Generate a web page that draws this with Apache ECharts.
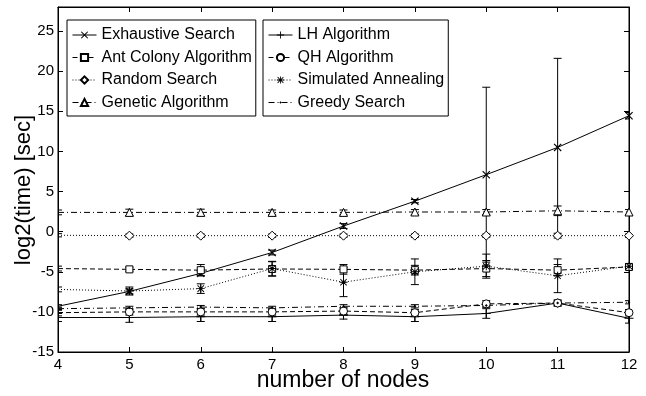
<!DOCTYPE html>
<html>
<head>
<meta charset="utf-8">
<script src="https://cdn.jsdelivr.net/npm/echarts@6/dist/echarts.min.js"></script>
<style>html,body{margin:0;padding:0;background:#fff}#c{width:646px;height:396px}</style>
</head>
<body>
<div id="c"></div>
<script>
// ---- data ----
const nodes = [4, 5, 6, 7, 8, 9, 10, 11, 12];
const exhaustive = [-9.3, -7.45, -5.2, -2.6, 0.7, 3.8, 7.1, 10.5, 14.45];
const exhaustiveErr = [0.2, 0.3, 0.3, 0.3, 0.3, 0.2, 10.9, 11.1, 0.4];
const antColony = [-4.6, -4.7, -4.8, -4.65, -4.7, -4.8, -4.6, -4.8, -4.4];
const antColonyErr = [0.3, 0.25, 0.7, 0.9, 0.6, 0.6, 1.0, 0.7, 0.3];
const randomSearch = [-0.45, -0.5, -0.5, -0.5, -0.5, -0.5, -0.5, -0.5, -0.5];
const randomErr = [0.2, 0.2, 0.2, 0.2, 0.2, 0.2, 0.2, 0.3, 0.2];
const genetic = [2.4, 2.4, 2.4, 2.4, 2.4, 2.45, 2.45, 2.6, 2.45];
const geneticErr = [0.3, 0.4, 0.4, 0.3, 0.3, 0.3, 0.3, 0.6, 0.3];
const lh = [-10.7, -10.7, -10.6, -10.6, -10.4, -10.6, -10.2, -8.9, -10.8];
const lhErr = [0.5, 0.6, 0.6, 0.6, 0.5, 0.6, 0.6, 0.4, 0.6];
const qh = [-10.1, -10.0, -10.0, -10.0, -9.9, -10.1, -9.0, -8.9, -10.1];
const qhErr = [0.4, 0.4, 0.4, 0.4, 0.4, 0.4, 0.4, 0.3, 0.4];
const sa = [-7.2, -7.4, -7.1, -4.6, -6.3, -5.0, -4.3, -5.5, -4.3];
const saErr = [0.3, 0.5, 0.6, 0.9, 1.8, 1.6, 1.5, 2.1, 0.3];
const greedy = [-9.6, -9.5, -9.4, -9.5, -9.3, -9.3, -9.2, -8.9, -8.8];
const greedyErr = [0.2, 0.2, 0.2, 0.2, 0.2, 0.2, 0.2, 0.2, 0.2];
const yTicks = [-15, -10, -5, 0, 5, 10, 15, 20, 25];
const xTicks = [4, 5, 6, 7, 8, 9, 10, 11, 12];
const legendLeft = ['Exhaustive Search', 'Ant Colony Algorithm', 'Random Search', 'Genetic Algorithm'];
const legendRight = ['LH Algorithm', 'QH Algorithm', 'Simulated Annealing', 'Greedy Search'];
const xTitle = 'number of nodes';
const yTitle = 'log2(time) [sec]';

// ---- styles ----
const FONT = 'Liberation Sans, Arial, sans-serif';
const SYM_X = 'path://M0,1L1,0L5,4L9,0L10,1L6,5L10,9L9,10L5,6L1,10L0,9L4,5Z';
const SYM_PLUS = 'path://M4.4,0H5.6V4.4H10V5.6H5.6V10H4.4V5.6H0V4.4H4.4Z';
const SYM_STAR = 'path://M4.4,0H5.6V4.4H10V5.6H5.6V10H4.4V5.6H0V4.4H4.4Z M0.6,1.4L1.4,0.6L5,4.2L8.6,0.6L9.4,1.4L5.8,5L9.4,8.6L8.6,9.4L5,5.8L1.4,9.4L0.6,8.6L4.2,5Z';
const SYM_DOT = 'path://M0,0M10,10M3.4,5L5,3.4L6.6,5L5,6.6Z';
const DASH = [5, 3];
const DOT = [1, 2];
const DASHDOT = [6, 3, 1, 3];

const defs = [
  {name: 'Exhaustive Search', y: exhaustive, e: exhaustiveErr, sym: SYM_X, size: 8, line: 'solid', hollow: false},
  {name: 'Ant Colony Algorithm', y: antColony, e: antColonyErr, sym: 'rect', size: 7, line: DASH, hollow: true},
  {name: 'Random Search', y: randomSearch, e: randomErr, sym: 'diamond', size: 9, line: DOT, hollow: true},
  {name: 'Genetic Algorithm', y: genetic, e: geneticErr, sym: 'triangle', size: 8, line: DASHDOT, hollow: true},
  {name: 'LH Algorithm', y: lh, e: lhErr, sym: SYM_PLUS, size: 9, line: 'solid', hollow: false},
  {name: 'QH Algorithm', y: qh, e: qhErr, sym: 'circle', size: 8, line: DASH, hollow: true},
  {name: 'Simulated Annealing', y: sa, e: saErr, sym: SYM_STAR, size: 8, line: DOT, hollow: false},
  {name: 'Greedy Search', y: greedy, e: greedyErr, sym: SYM_DOT, size: 9, line: DASHDOT, hollow: false}
];

const series = [];
defs.forEach(d => {
  series.push({
    type: 'custom',
    name: d.name + ' err',
    clip: true,
    silent: true,
    z: 1,
    data: nodes.map((x, i) => [x, d.y[i], d.e[i]]),
    encode: {x: 0, y: 1},
    renderItem: function (params, api) {
      const x = api.value(0), y = api.value(1), e = api.value(2);
      const t = api.coord([x, y + e]);
      const b = api.coord([x, y - e]);
      const w = 4;
      const st = {stroke: '#000', lineWidth: 1};
      return {type: 'group', children: [
        {type: 'line', shape: {x1: t[0], y1: t[1], x2: b[0], y2: b[1]}, style: st},
        {type: 'line', shape: {x1: t[0] - w, y1: t[1], x2: t[0] + w, y2: t[1]}, style: st},
        {type: 'line', shape: {x1: b[0] - w, y1: b[1], x2: b[0] + w, y2: b[1]}, style: st}
      ]};
    }
  });
  series.push({
    type: 'line',
    name: d.name,
    z: 2,
    symbol: d.sym,
    symbolSize: d.size,
    data: nodes.map((x, i) => i === 0 ? {value: [x, d.y[i]], symbol: 'none'} : [x, d.y[i]]),
    lineStyle: {color: '#000', width: 1, type: d.line},
    itemStyle: d.hollow ? {color: '#fff', borderColor: '#000', borderWidth: 1} : {color: '#000', borderColor: '#000', borderWidth: 0},
    emphasis: {disabled: true},
    animation: false
  });
});

const legendBase = {
  orient: 'vertical',
  top: 20,
  padding: [6, 4, 4.5, 5],
  itemGap: 4.5,
  itemWidth: 24,
  itemHeight: 9,
  borderColor: '#000',
  borderWidth: 1,
  backgroundColor: '#fff',
  selectedMode: false,
  lineStyle: {width: 1},
  textStyle: {fontFamily: FONT, fontSize: 16, color: '#000', lineHeight: 18}
};

const axisCommonY = {
  type: 'value', min: -15, max: 28, interval: 5,
  axisLine: {show: true, onZero: false, lineStyle: {color: '#000', width: 1}},
  axisTick: {show: true, inside: true, length: 5, lineStyle: {color: '#000'}},
  splitLine: {show: false}
};
const axisCommonX = {
  type: 'value', min: 4, max: 12, interval: 1,
  axisLine: {show: true, onZero: false, lineStyle: {color: '#000', width: 1}},
  axisTick: {show: true, inside: true, length: 5, lineStyle: {color: '#000'}},
  splitLine: {show: false}
};

const option = {
  animation: false,
  backgroundColor: '#fff',
  grid: {left: 58, right: 17, top: 7, bottom: 44, show: true, borderColor: '#000', borderWidth: 1, backgroundColor: 'transparent'},
  legend: [
    Object.assign({}, legendBase, {left: 67, data: legendLeft}),
    Object.assign({}, legendBase, {left: 263, data: legendRight})
  ],
  xAxis: [
    Object.assign({}, axisCommonX, {
      position: 'bottom',
      axisLabel: {show: true, margin: 5, fontFamily: FONT, fontSize: 15, color: '#000',
        formatter: v => xTicks.includes(v) ? String(v) : ''}
    }),
    Object.assign({}, axisCommonX, {position: 'top', axisLabel: {show: false}})
  ],
  yAxis: [
    Object.assign({}, axisCommonY, {
      position: 'left',
      axisLabel: {show: true, margin: 4, fontFamily: FONT, fontSize: 15, color: '#000',
        formatter: v => yTicks.includes(v) ? String(v) : ''}
    }),
    Object.assign({}, axisCommonY, {position: 'right', axisLabel: {show: false}})
  ],
  graphic: [
    {type: 'text', x: 343, y: 381, style: {text: xTitle, font: '23px ' + FONT, fill: '#000', align: 'center', verticalAlign: 'middle'}},
    {type: 'text', x: 24, y: 190, rotation: Math.PI / 2, style: {text: yTitle, font: '22px ' + FONT, fill: '#000', align: 'center', verticalAlign: 'middle'}}
  ],
  series: series
};

const chart = echarts.init(document.getElementById('c'), null, {renderer: 'canvas'});
chart.setOption(option);
</script>
</body>
</html>
